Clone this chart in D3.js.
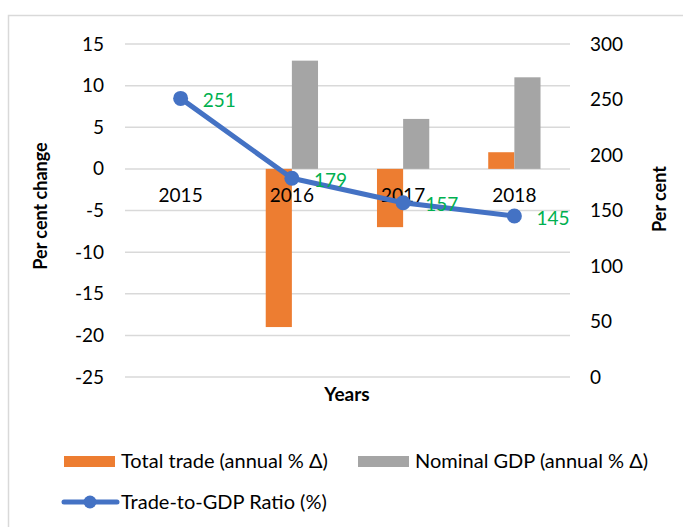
<!DOCTYPE html>
<html>
<head>
<meta charset="utf-8">
<script src="https://cdn.jsdelivr.net/npm/d3@7"></script>
<style>
  html, body { margin: 0; padding: 0; background: #fff; }
  svg { display: block; font-family: Lato, "Open Sans", sans-serif; }
</style>
</head>
<body>
<svg id="chart" width="683" height="527"></svg>
<script>
// Annual figures
const years = ["2015", "2016", "2017", "2018"];
const totalTrade = [0, -19, -7, 2];          // annual % change
const nominalGDP = [0, 13, 6, 11];           // annual % change
const tradeToGDP = [251, 179, 157, 145];     // ratio, per cent
const leftTicks = [15, 10, 5, 0, -5, -10, -15, -20, -25];
const rightTicks = [300, 250, 200, 150, 100, 50, 0];

const FS = 19;
const svg = d3.select("#chart");
const plot = { left: 125, right: 570, top: 44, bottom: 377 };

// Outer frame
svg.append("rect")
  .attr("x", 8.5).attr("y", 15.5)
  .attr("width", 700).attr("height", 540)
  .attr("fill", "#fff").attr("stroke", "#d9d9d9").attr("stroke-width", 1.5);

const x = d3.scaleBand().domain(years).range([plot.left, plot.right]);
const yL = d3.scaleLinear().domain([-25, 15]).range([plot.bottom, plot.top]);
const yR = d3.scaleLinear().domain([0, 300]).range([plot.bottom, plot.top]);

// Gridlines
svg.append("g").selectAll("line").data(leftTicks).join("line")
  .attr("x1", plot.left).attr("x2", plot.right)
  .attr("y1", d => yL(d)).attr("y2", d => yL(d))
  .attr("stroke", "#d9d9d9").attr("stroke-width", 1.5);

// Left axis (plain hyphen for negatives)
const leftAxis = svg.append("g")
  .attr("transform", `translate(${plot.left},0)`)
  .call(d3.axisLeft(yL).tickValues(leftTicks).tickSize(0).tickPadding(21)
    .tickFormat(d => String(d)));
leftAxis.select(".domain").remove();
leftAxis.selectAll("text").attr("font-size", FS).attr("fill", "#000")
  .attr("font-family", "Lato, sans-serif");

// Right axis
const rightAxis = svg.append("g")
  .attr("transform", `translate(${plot.right},0)`)
  .call(d3.axisRight(yR).tickValues(rightTicks).tickSize(0).tickPadding(20));
rightAxis.select(".domain").remove();
rightAxis.selectAll("text").attr("font-size", FS).attr("fill", "#000")
  .attr("font-family", "Lato, sans-serif");

// Bars
const barW = x.bandwidth() * 0.235;
const bars = svg.append("g");
bars.selectAll("rect.trade").data(years).join("rect")
  .attr("class", "trade")
  .attr("x", d => x(d) + x.bandwidth() / 2 - barW)
  .attr("width", barW)
  .attr("y", (d, i) => Math.min(yL(0), yL(totalTrade[i])))
  .attr("height", (d, i) => Math.abs(yL(totalTrade[i]) - yL(0)))
  .attr("fill", "#ED7D31");
bars.selectAll("rect.gdp").data(years).join("rect")
  .attr("class", "gdp")
  .attr("x", d => x(d) + x.bandwidth() / 2)
  .attr("width", barW)
  .attr("y", (d, i) => Math.min(yL(0), yL(nominalGDP[i])))
  .attr("height", (d, i) => Math.abs(yL(nominalGDP[i]) - yL(0)))
  .attr("fill", "#A5A5A5");

// Category labels sit just below the zero line
const catAxis = svg.append("g")
  .attr("transform", `translate(0,${yL(0)})`)
  .call(d3.axisBottom(x).tickSize(0).tickPadding(20));
catAxis.select(".domain").remove();
catAxis.selectAll("text").attr("font-size", FS).attr("fill", "#000")
  .attr("font-family", "Lato, sans-serif");

// Trade-to-GDP ratio line
const cx = d => x(d) + x.bandwidth() / 2;
const line = d3.line().x((d, i) => cx(years[i])).y(d => yR(d));
svg.append("path").datum(tradeToGDP)
  .attr("d", line).attr("fill", "none")
  .attr("stroke", "#4472C4").attr("stroke-width", 5)
  .attr("stroke-linejoin", "round").attr("stroke-linecap", "round");
svg.append("g").selectAll("circle").data(tradeToGDP).join("circle")
  .attr("cx", (d, i) => cx(years[i])).attr("cy", d => yR(d))
  .attr("r", 7.5).attr("fill", "#4472C4");

// Value labels
svg.append("g").selectAll("text").data(tradeToGDP).join("text")
  .attr("x", (d, i) => cx(years[i]) + 22)
  .attr("y", d => yR(d) + 2)
  .attr("dy", "0.35em")
  .attr("font-size", FS).attr("fill", "#00B050")
  .text(d => d);

// Axis titles
svg.append("text")
  .attr("transform", "translate(47,206) rotate(-90)")
  .attr("text-anchor", "middle").attr("font-size", 18).attr("font-weight", "bold")
  .text("Per cent change");
svg.append("text")
  .attr("transform", "translate(666,199) rotate(-90)")
  .attr("text-anchor", "middle").attr("font-size", 18).attr("font-weight", "bold")
  .text("Per cent");
svg.append("text")
  .attr("x", 347).attr("y", 401)
  .attr("text-anchor", "middle").attr("font-size", 19).attr("font-weight", "bold")
  .text("Years");

// Legend
const legend = svg.append("g").attr("font-size", 20);
legend.append("rect").attr("x", 64).attr("y", 456).attr("width", 51).attr("height", 11).attr("fill", "#ED7D31");
legend.append("text").attr("x", 121).attr("y", 461).attr("dy", "0.35em").text("Total trade (annual % Δ)");
legend.append("rect").attr("x", 358).attr("y", 456).attr("width", 51).attr("height", 11).attr("fill", "#A5A5A5");
legend.append("text").attr("x", 415).attr("y", 461).attr("dy", "0.35em").text("Nominal GDP (annual % Δ)");
legend.append("line").attr("x1", 64).attr("x2", 117).attr("y1", 502).attr("y2", 502)
  .attr("stroke", "#4472C4").attr("stroke-width", 5).attr("stroke-linecap", "round");
legend.append("circle").attr("cx", 90).attr("cy", 502).attr("r", 6.5).attr("fill", "#4472C4");
legend.append("text").attr("x", 121).attr("y", 502).attr("dy", "0.35em").text("Trade-to-GDP Ratio (%)");
</script>
</body>
</html>
